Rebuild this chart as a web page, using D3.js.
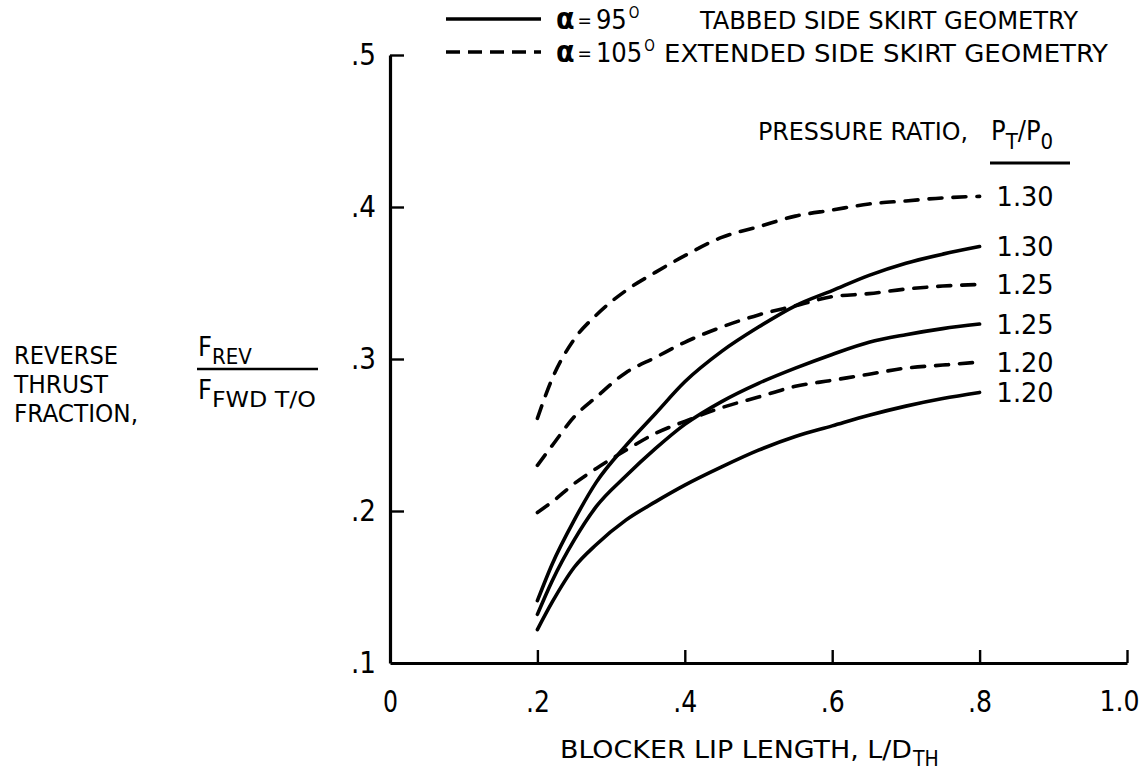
<!DOCTYPE html>
<html>
<head>
<meta charset="utf-8">
<script src="https://cdn.jsdelivr.net/npm/d3@7"></script>
<style>
  html, body { margin: 0; padding: 0; background: #fff; }
  svg text { font-family: "DejaVu Sans Condensed", "Liberation Sans Narrow", "Roboto Condensed", sans-serif; fill: #000; }
</style>
</head>
<body>
<svg id="chart"></svg>
<script>
const width = 1148;
const height = 778;

// lip length values read at a common grid
const lipLength = [0.2, 0.22, 0.25, 0.28, 0.32, 0.36, 0.4, 0.45, 0.5, 0.55, 0.6, 0.65, 0.7, 0.75, 0.8];

// alpha = 95 deg, tabbed side skirt (solid)
const tabbed130 = [0.141, 0.165, 0.194, 0.219, 0.243, 0.264, 0.285, 0.305, 0.321, 0.335, 0.345, 0.355, 0.363, 0.369, 0.374];
const tabbed125 = [0.132, 0.154, 0.181, 0.203, 0.223, 0.241, 0.257, 0.272, 0.284, 0.294, 0.303, 0.311, 0.316, 0.320, 0.323];
const tabbed120 = [0.122, 0.140, 0.163, 0.178, 0.194, 0.206, 0.217, 0.229, 0.240, 0.249, 0.256, 0.263, 0.269, 0.274, 0.278];

// alpha = 105 deg, extended side skirt (dashed)
const extended130 = [0.261, 0.287, 0.313, 0.329, 0.345, 0.357, 0.368, 0.380, 0.387, 0.394, 0.398, 0.402, 0.404, 0.406, 0.407];
const extended125 = [0.230, 0.243, 0.262, 0.275, 0.291, 0.301, 0.311, 0.321, 0.329, 0.335, 0.341, 0.343, 0.346, 0.348, 0.349];
const extended120 = [0.199, 0.206, 0.218, 0.228, 0.240, 0.251, 0.259, 0.268, 0.275, 0.282, 0.286, 0.290, 0.294, 0.296, 0.298];

const series = [
	{ label: "1.30", dashed: true, values: extended130 },
	{ label: "1.30", dashed: false, values: tabbed130 },
	{ label: "1.25", dashed: true, values: extended125 },
	{ label: "1.25", dashed: false, values: tabbed125 },
	{ label: "1.20", dashed: true, values: extended120 },
	{ label: "1.20", dashed: false, values: tabbed120 },
];

const xTicks = [0, 0.2, 0.4, 0.6, 0.8, 1.0];
const xTickLabels = ["0", ".2", ".4", ".6", ".8", "1.0"];
const yTicks = [0.1, 0.2, 0.3, 0.4, 0.5];
const yTickLabels = [".1", ".2", ".3", ".4", ".5"];

const x = d3.scaleLinear().domain([0, 1]).range([390, 1127]);
const y = d3.scaleLinear().domain([0.1, 0.5]).range([663, 55]);

const svg = d3.select("#chart").attr("width", width).attr("height", height);

// fit a text to a width in pixels
function fit(sel, w) {
	return sel.attr("textLength", w).attr("lengthAdjust", "spacingAndGlyphs");
}

// axes
const xAxis = d3.axisBottom(x)
	.tickValues(xTicks)
	.tickFormat((d, i) => xTickLabels[i])
	.tickSizeInner(-13)
	.tickSizeOuter(0)
	.tickPadding(28);

const yAxis = d3.axisLeft(y)
	.tickValues(yTicks)
	.tickFormat((d, i) => yTickLabels[i])
	.tickSizeInner(-14)
	.tickSizeOuter(0)
	.tickPadding(14);

const gx = svg.append("g").attr("transform", `translate(0,${y(0.1)})`).call(xAxis);
const gy = svg.append("g").attr("transform", `translate(${x(0)},0)`).call(yAxis);

[gx, gy].forEach((g) => {
	g.select(".domain").attr("stroke", "#000").attr("stroke-width", 3.2);
	g.selectAll(".tick line").attr("stroke", "#000").attr("stroke-width", 2.4);
	g.selectAll(".tick text").attr("font-size", 30).attr("fill", "#000");
});
gx.selectAll(".tick text").filter((d) => d < 1).each(function (d, i) {
	fit(d3.select(this), xTickLabels[i].length === 1 ? 15 : 24);
});
// the last label sits just inside the page edge
gx.selectAll(".tick text").filter((d) => d === 1)
	.attr("font-size", 28)
	.attr("text-anchor", "end")
	.attr("x", 12);
gy.selectAll(".tick text").each(function () {
	fit(d3.select(this), 25);
});
gx.selectAll(".tick").filter((d) => d === 0).select("line").remove();
gy.selectAll(".tick").filter((d) => d === 0.1).select("line").remove();

// curves
const line = d3.line()
	.curve(d3.curveMonotoneX)
	.x((d) => x(d[0]))
	.y((d) => y(d[1]));

series.forEach((s) => {
	const pts = lipLength.map((v, i) => [v, s.values[i]]);
	svg.append("path")
		.datum(pts)
		.attr("d", line)
		.attr("fill", "none")
		.attr("stroke", "#000")
		.attr("stroke-width", 3.6)
		.attr("stroke-linecap", "round")
		.attr("stroke-dasharray", s.dashed ? "13,11" : null);

	const last = pts[pts.length - 1];
	fit(svg.append("text")
		.attr("x", x(last[0]) + 17)
		.attr("y", y(last[1]))
		.attr("dy", "0.36em")
		.attr("font-size", 27)
		.text(s.label), 57);
});

// pressure ratio header
fit(svg.append("text")
	.attr("x", 758)
	.attr("y", 140)
	.attr("font-size", 24)
	.text("PRESSURE RATIO,"), 210);

const pr = svg.append("text")
	.attr("x", 991)
	.attr("y", 140)
	.attr("font-size", 27);
pr.append("tspan").text("P");
pr.append("tspan").attr("font-size", 22).attr("dy", 9).text("T");
pr.append("tspan").attr("dy", -9).text("/P");
pr.append("tspan").attr("font-size", 22).attr("dy", 9).text("0");

svg.append("line")
	.attr("x1", 990).attr("x2", 1070)
	.attr("y1", 163).attr("y2", 163)
	.attr("stroke", "#000").attr("stroke-width", 3);

// legend
const legendRows = [
	{ dashed: false, angle: "95", text: "TABBED SIDE SKIRT GEOMETRY", y: 19, textX: 700, textEnd: 1078 },
	{ dashed: true, angle: "105", text: "EXTENDED SIDE SKIRT GEOMETRY", y: 52, textX: 664, textEnd: 1108 },
];

legendRows.forEach((r) => {
	svg.append("line")
		.attr("x1", 446).attr("x2", 541)
		.attr("y1", r.y).attr("y2", r.y)
		.attr("stroke", "#000")
		.attr("stroke-width", 3.4)
		.attr("stroke-dasharray", r.dashed ? "14,8" : null);

	const t = svg.append("text")
		.attr("x", 556)
		.attr("y", r.y + 10)
		.attr("font-size", 27);
	t.append("tspan").attr("font-size", 30).attr("font-weight", "bold").text("α");
	t.append("tspan").attr("font-size", 19).attr("dx", 3).attr("dy", -2).text("=");
	t.append("tspan").attr("dx", 4).attr("dy", 2).text(r.angle);
	t.append("tspan").attr("font-size", 15).attr("dx", 2).attr("dy", -11).text("O");

	fit(svg.append("text")
		.attr("x", r.textX)
		.attr("y", r.y + 10)
		.attr("font-size", 24)
		.text(r.text), r.textEnd - r.textX);
});

// y axis title
const yTitle = [["REVERSE", 104], ["THRUST", 94], ["FRACTION,", 124]];
yTitle.forEach(([s, w], i) => {
	fit(svg.append("text")
		.attr("x", 14)
		.attr("y", 364 + i * 29)
		.attr("font-size", 24)
		.text(s), w);
});

const num = svg.append("text").attr("x", 198).attr("y", 356).attr("font-size", 27);
num.append("tspan").text("F");
num.append("tspan").attr("font-size", 22).attr("dy", 8).text("REV");

svg.append("line")
	.attr("x1", 197).attr("x2", 318)
	.attr("y1", 369).attr("y2", 369)
	.attr("stroke", "#000").attr("stroke-width", 2.6);

const den = svg.append("text").attr("x", 198).attr("y", 399).attr("font-size", 27);
den.append("tspan").text("F");
den.append("tspan").attr("font-size", 22).attr("dy", 8).attr("textLength", 104).attr("lengthAdjust", "spacingAndGlyphs").text("FWD T/O");

// x axis title
fit(svg.append("text")
	.attr("x", 560)
	.attr("y", 758)
	.attr("font-size", 25)
	.text("BLOCKER LIP LENGTH, L/D"), 352);
svg.append("text")
	.attr("x", 913)
	.attr("y", 766)
	.attr("font-size", 21)
	.text("TH");
</script>
</body>
</html>
